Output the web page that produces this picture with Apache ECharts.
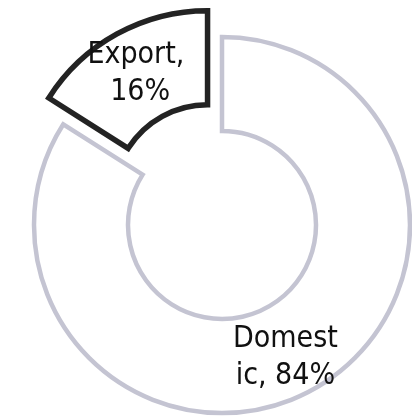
<!DOCTYPE html>
<html>
<head>
<meta charset="utf-8">
<script src="https://cdn.jsdelivr.net/npm/echarts@6/dist/echarts.min.js"></script>
<style>
  html, body { margin: 0; padding: 0; background: #ffffff; }
  #chart { width: 412px; height: 420px; }
</style>
</head>
<body>
<div id="chart"></div>
<script>
// Sales split by market
const categories = ['Domestic', 'Export'];
const shares = [84, 16];            // percent
const explodedCategory = 'Export';

const borderColors = { Domestic: '#c4c4d2', Export: '#232323' };
const borderWidths = { Domestic: 4.5, Export: 5.5 };

const chart = echarts.init(document.getElementById('chart'), null, { renderer: 'canvas' });

chart.setOption({
  backgroundColor: '#ffffff',
  animation: false,
  series: [{
    type: 'pie',
    center: [222, 225],
    radius: [94, 188],
    startAngle: 90,
    clockwise: true,
    selectedMode: 'single',
    selectedOffset: 30,
    avoidLabelOverlap: false,
    emphasis: { disabled: true },
    label: {
      show: true,
      position: 'inside',
      fontFamily: '"DejaVu Sans Condensed", "DejaVu Sans", sans-serif',
      fontSize: 30,
      lineHeight: 37,
      color: '#111111',
      align: 'center',
      formatter: p => p.name + ', ' + p.value + '%'
    },
    labelLine: { show: false },
    // nudge the large slice's label a little toward the bottom
    labelLayout: p => (p.dataIndex === 0 ? { dx: -6, dy: 7 } : { dx: 2, dy: 1 }),
    data: categories.map((name, i) => ({
      name: name,
      value: shares[i],
      selected: name === explodedCategory,
      itemStyle: {
        color: '#ffffff',
        borderColor: borderColors[name],
        borderWidth: borderWidths[name],
        borderJoin: 'miter'
      },
      label: name === explodedCategory
        ? { width: 120, overflow: 'break' }
        : { width: 110, overflow: 'breakAll' }
    }))
  }]
});
</script>
</body>
</html>
